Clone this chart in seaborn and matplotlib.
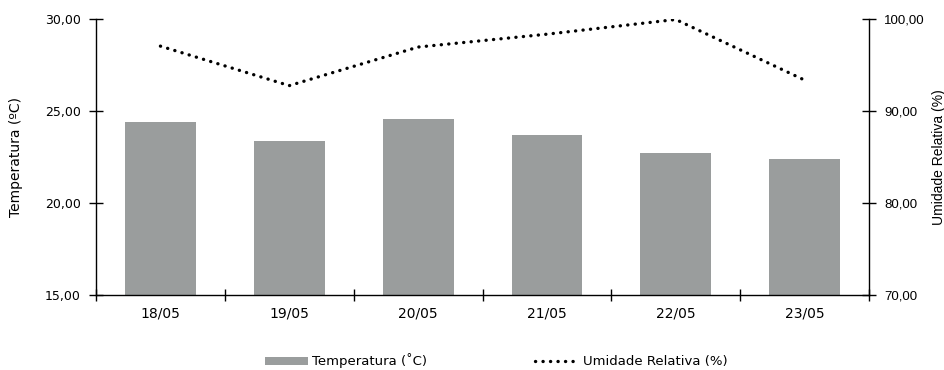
import matplotlib
matplotlib.use("Agg")
import matplotlib.pyplot as plt
from matplotlib.patches import Patch
from matplotlib.lines import Line2D
from matplotlib.ticker import FixedLocator, FuncFormatter
import seaborn as sns
import pandas as pd

# Daily readings
dates = ["18/05", "19/05", "20/05", "21/05", "22/05", "23/05"]
temperature = [24.4, 23.4, 24.6, 23.7, 22.75, 22.4]
humidity = [97.1, 92.8, 97.0, 98.4, 100.0, 93.4]

temp_ticks = [15, 20, 25, 30]
hum_ticks = [70, 80, 90, 100]

df = pd.DataFrame({"data": dates, "temperatura": temperature, "umidade": humidity})
df["pos"] = range(len(df))

sns.set_theme(style="white", rc={"text.color": "black", "axes.labelcolor": "black",
                                 "xtick.color": "black", "ytick.color": "black"})
plt.rcParams["font.family"] = ["DejaVu Sans"]

bar_color = "#9a9d9d"
dotted = (0, (0.05, 2.2))
fig = plt.figure(figsize=(9.45, 3.7), dpi=100)
ax = fig.add_axes([0.1016, 0.2027, 0.8180, 0.7446])

sns.barplot(data=df, x="data", y="temperatura", color=bar_color, width=0.55,
            saturation=1, ax=ax, edgecolor="none")
ax.set_xlim(-0.5, len(dates) - 0.5)
ax.set_ylim(temp_ticks[0], temp_ticks[-1])
ax.set_yticks(temp_ticks)
comma = FuncFormatter(lambda v, p: f"{v:.2f}".replace(".", ","))
ax.yaxis.set_major_formatter(comma)
ax.set_xlabel("")
ax.set_ylabel("Temperatura (ºC)", fontsize=10)
ax.yaxis.set_label_coords(-0.094, 0.5)

ax2 = ax.twinx()
sns.lineplot(data=df, x="pos", y="umidade", color="black", ax=ax2, linewidth=2.4)
line = ax2.lines[0]
line.set_linestyle(dotted)
line.set_dash_capstyle("round")
ax2.set_ylim(hum_ticks[0], hum_ticks[-1])
ax2.set_yticks(hum_ticks)
ax2.yaxis.set_major_formatter(comma)
ax2.set_xlim(-0.5, len(dates) - 0.5)
ax2.set_ylabel("Umidade Relativa (%)", fontsize=10, family="Liberation Sans",
               rotation=90, va="center")
ax2.yaxis.set_label_coords(1.09, 0.5)
ax2.set_xlabel("")

for a in (ax, ax2):
    for s in a.spines.values():
        s.set_visible(False)
    a.grid(False)

ax.spines["left"].set_visible(True)
ax.spines["bottom"].set_visible(True)
ax2.spines["right"].set_visible(True)
for a, side in ((ax, "left"), (ax, "bottom"), (ax2, "right")):
    a.spines[side].set_color("black")
    a.spines[side].set_linewidth(1.0)

# category labels centered, tick marks on the boundaries
ax.xaxis.set_minor_locator(FixedLocator([i - 0.5 for i in range(len(dates) + 1)]))
ax.tick_params(axis="x", which="major", length=0, labelsize=10, pad=8,
               labelcolor="black")
ax.tick_params(axis="x", which="minor", length=8, direction="inout",
               width=1, color="black", bottom=True)
ax.tick_params(axis="y", which="major", length=10, direction="inout",
               width=1, color="black", labelsize=9, pad=6, left=True,
               labelcolor="black")
ax2.tick_params(axis="y", which="major", length=10, direction="inout",
                width=1, color="black", labelsize=9.5, pad=6, right=True,
                labelcolor="black")
for t in ax2.get_yticklabels():
    t.set_family("Liberation Sans")

handles = [
    Patch(facecolor=bar_color, edgecolor="none", label="Temperatura (˚C)"),
    Line2D([0], [0], color="black", linewidth=2.4, linestyle=dotted,
           dash_capstyle="round", label="Umidade Relativa (%)"),
]
fig.legend(handles=handles, loc="lower center", bbox_to_anchor=(0.525, -0.028),
           ncol=2, frameon=False, fontsize=9.5, handlelength=3.3,
           handleheight=0.5, handletextpad=0.3, columnspacing=8.2)

fig.savefig("out.png", dpi=100)
